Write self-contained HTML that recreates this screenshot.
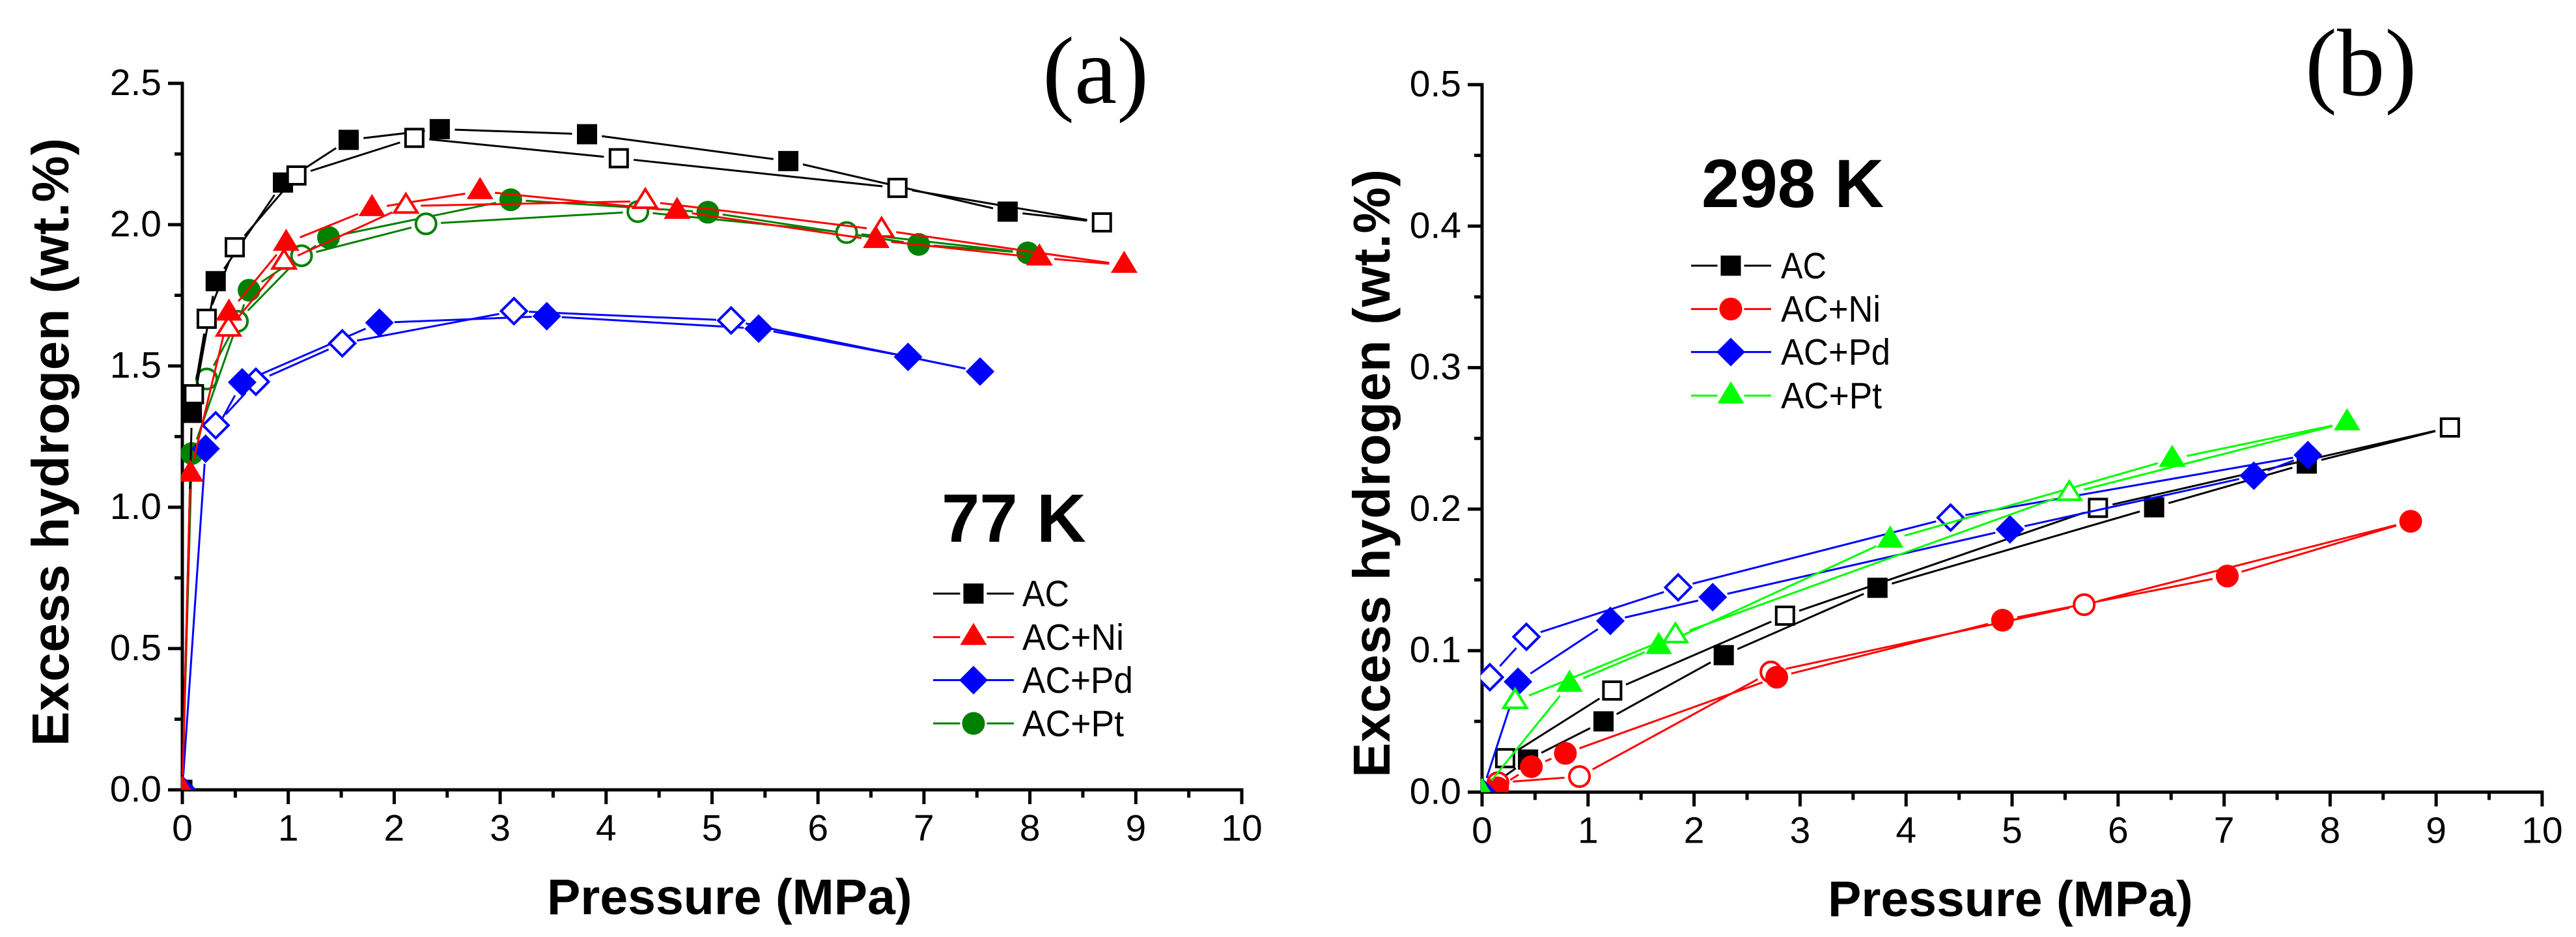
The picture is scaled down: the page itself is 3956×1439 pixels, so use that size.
<!DOCTYPE html>
<html lang="en">
<head>
<meta charset="utf-8">
<title>Excess hydrogen isotherms at 77 K and 298 K</title>
<style>
html,body{margin:0;padding:0;background:#fff;width:3956px;height:1439px;overflow:hidden}
svg{display:block}
text{font-family:"Liberation Sans",Arial,sans-serif;fill:#000}
.tick{font-size:57px}
.title{font-size:77px;font-weight:bold}
.ytitle{font-size:80px;font-weight:bold}
.temp{font-size:105px;font-weight:bold}
.panel{font-family:"Liberation Serif","Times New Roman",serif;font-size:147px}
.leg{font-size:57px}
</style>
</head>
<body>
<svg id="figure" xmlns="http://www.w3.org/2000/svg" width="3956" height="1439" viewBox="0 0 3956 1439">
  <rect width="3956" height="1439" fill="#fff"/>
  <defs>
    <clipPath id="clip-a"><rect x="278" y="100" width="1700" height="1113"/></clipPath>
    <clipPath id="clip-b"><rect x="2274" y="100" width="1700" height="1116.5"/></clipPath>
  </defs>

  <g id="panel-a">
    <g id="axes-a"></g>
    <g id="series-a" clip-path="url(#clip-a)"></g>
    <text class="panel" x="1601" y="158">(a)</text>
    <text class="temp" x="1446" y="832">77 K</text>
    <text class="title" x="840" y="1404">Pressure (MPa)</text>
    <text class="ytitle" transform="translate(105 1146) rotate(-90)" textLength="934" lengthAdjust="spacing">Excess hydrogen (wt.%)</text>
    <g id="legend-a"></g>
  </g>

  <g id="panel-b">
    <g id="axes-b"></g>
    <g id="series-b" clip-path="url(#clip-b)"></g>
    <text class="panel" x="3540" y="146">(b)</text>
    <text class="temp" x="2613" y="318">298 K</text>
    <text class="title" x="2807" y="1407">Pressure (MPa)</text>
    <text class="ytitle" transform="translate(2134 1194) rotate(-90)" textLength="934" lengthAdjust="spacing">Excess hydrogen (wt.%)</text>
    <g id="legend-b"></g>
  </g>
</svg>

<script>
// ---- Shared tick labels ----
const xTickLabels = ['0','1','2','3','4','5','6','7','8','9','10'];
const yTickLabelsA = ['0.0','0.5','1.0','1.5','2.0','2.5'];
const yTickLabelsB = ['0.0','0.1','0.2','0.3','0.4','0.5'];

// ---- Panel (a), 77 K: adsorption (filled) and desorption (open) ----
const acAdsP77 = [0, 0.09, 0.315, 0.95, 1.57, 2.43, 3.82, 5.72, 7.79];
const acAdsV77 = [0, 1.334, 1.80, 2.149, 2.30, 2.338, 2.32, 2.225, 2.046];
const acDesP77 = [8.68, 6.75, 4.12, 2.19, 1.077, 0.495, 0.23, 0.11];
const acDesV77 = [2.008, 2.13, 2.235, 2.307, 2.174, 1.92, 1.667, 1.40];

const niAdsP77 = [0, 0.075, 0.44, 0.98, 1.79, 2.81, 4.67, 6.55, 8.09, 8.89];
const niAdsV77 = [0, 1.118, 1.688, 1.935, 2.058, 2.118, 2.048, 1.945, 1.883, 1.857];
const niDesP77 = [6.60, 4.37, 2.11, 0.96, 0.436];
const niDesV77 = [1.981, 2.083, 2.066, 1.868, 1.631];

const pdAdsP77 = [0, 0.22, 0.565, 1.86, 3.44, 5.44, 6.85, 7.53];
const pdAdsV77 = [0, 1.207, 1.442, 1.653, 1.676, 1.632, 1.532, 1.48];
const pdDesP77 = [5.18, 3.13, 1.51, 0.694, 0.315];
const pdDesV77 = [1.661, 1.694, 1.58, 1.444, 1.29];

const ptAdsP77 = [0, 0.09, 0.63, 1.38, 3.10, 4.96, 6.95, 7.98];
const ptAdsV77 = [0, 1.19, 1.768, 1.955, 2.088, 2.044, 1.93, 1.90];
const ptDesP77 = [6.27, 4.30, 2.30, 1.125, 0.52, 0.23];
const ptDesV77 = [1.972, 2.046, 2.003, 1.89, 1.658, 1.454];

// ---- Panel (b), 298 K ----
const acAdsP298 = [0, 0.434, 1.146, 2.28, 3.73, 6.34, 7.78];
const acAdsV298 = [0, 0.023, 0.050, 0.0968, 0.1444, 0.2013, 0.2322];
const acDesP298 = [9.13, 5.81, 2.858, 1.228, 0.218];
const acDesV298 = [0.2577, 0.2009, 0.1247, 0.0718, 0.024];

const niAdsP298 = [0, 0.147, 0.465, 0.786, 2.78, 4.91, 7.03, 8.76];
const niAdsV298 = [0, 0.003, 0.018, 0.0274, 0.0812, 0.1215, 0.1527, 0.1914];
const niDesP298 = [5.68, 2.725, 0.919, 0.15];
const niDesV298 = [0.1325, 0.0849, 0.011, 0.0067];

const pdAdsP298 = [0, 0.339, 1.21, 2.176, 4.98, 7.28, 7.79];
const pdAdsV298 = [0, 0.078, 0.121, 0.1378, 0.1857, 0.2236, 0.2382];
const pdDesP298 = [4.42, 1.85, 0.418, 0.074];
const pdDesV298 = [0.194, 0.1447, 0.1098, 0.0812];

const ptAdsP298 = [0, 0.825, 1.667, 3.85, 6.51, 8.16];
const ptAdsV298 = [0, 0.0764, 0.1031, 0.1783, 0.2354, 0.2612];
const ptDesP298 = [5.54, 1.824, 0.312];
const ptDesV298 = [0.2112, 0.1107, 0.0642];

// ---- Helpers ----
const NS = 'http://www.w3.org/2000/svg';
function el(parent, tag, attrs, text) {
  const e = document.createElementNS(NS, tag);
  for (const k in attrs) e.setAttribute(k, attrs[k]);
  if (text !== undefined) e.textContent = text;
  parent.appendChild(e);
  return e;
}

const BLACK = '#000000', RED = '#ff0000', BLUE = '#0000ff', DARKGREEN = '#008000', LIME = '#00ff00';
const GAP = 23;

function markerShape(parent, shape, cx, cy, color, filled) {
  const fill = filled ? color : '#ffffff';
  const sw = filled ? 0 : 4;
  const inset = filled ? 0 : 2;
  const base = {fill: fill, stroke: filled ? 'none' : color, 'stroke-width': sw};
  if (shape === 'square') {
    const h = 15.5 - inset;
    return el(parent, 'rect', Object.assign({x: cx - h, y: cy - h, width: 2 * h, height: 2 * h}, base));
  }
  if (shape === 'circle') {
    return el(parent, 'circle', Object.assign({cx: cx, cy: cy, r: 17.5 - inset}, base));
  }
  if (shape === 'diamond') {
    const d = 22 - inset * 1.2;
    return el(parent, 'polygon', Object.assign({points: [cx, cy - d, cx + d, cy, cx, cy + d, cx - d, cy].join(' ')}, base));
  }
  const hw = 20.5 - inset * 1.4;
  const top = cy - 22 + inset * 1.8;
  const bot = cy + 12 - inset;
  return el(parent, 'polygon', Object.assign({points: [cx, top, cx + hw, bot, cx - hw, bot].join(' ')}, base));
}

function drawAxes(group, ax, yTicks, prefix) {
  const xAxis = el(group, 'line', {x1: ax.x0 - 2.5, x2: ax.x0 + 10 * ax.sx + 2.5, y1: ax.y0, y2: ax.y0, stroke: '#000', 'stroke-width': 5});
  
  
  const yAxis = el(group, 'line', {x1: ax.x0, x2: ax.x0, y1: ax.yTop - 2.5, y2: ax.y0 + 2.5, stroke: '#000', 'stroke-width': 5});
  
  

  xTickLabels.forEach(function (lab, i) {
    const x = ax.x0 + i * ax.sx;
    const t = el(group, 'line', {x1: x, x2: x, y1: ax.y0, y2: ax.y0 + 22, stroke: '#000', 'stroke-width': 5});
    
    
    const l = el(group, 'text', {x: x, y: ax.y0 + 78, 'text-anchor': 'middle', class: 'tick'}, lab);
    
    
    if (i < xTickLabels.length - 1) {
      const mx = x + ax.sx / 2;
      const m = el(group, 'line', {x1: mx, x2: mx, y1: ax.y0, y2: ax.y0 + 12, stroke: '#000', 'stroke-width': 5});
      
      
    }
  });

  const step = (ax.y0 - ax.yTop) / (yTicks.length - 1);
  yTicks.forEach(function (lab, i) {
    const y = ax.y0 - i * step;
    const t = el(group, 'line', {x1: ax.x0 - 22, x2: ax.x0, y1: y, y2: y, stroke: '#000', 'stroke-width': 5});
    
    
    const l = el(group, 'text', {x: ax.x0 - 32, y: y + 18, 'text-anchor': 'end', class: 'tick'}, lab);
    
    
    if (i < yTicks.length - 1) {
      const my = y - step / 2;
      const m = el(group, 'line', {x1: ax.x0 - 12, x2: ax.x0, y1: my, y2: my, stroke: '#000', 'stroke-width': 5});
      
      
    }
  });
}

function drawSeries(group, ax, s) {
  const g = el(group, 'g', {});
  
  

  const ads = s.adsP.map(function (p, i) { return {x: ax.px(p), y: ax.py(s.adsV[i]), filled: true}; });
  const des = s.desP.map(function (p, i) { return {x: ax.px(p), y: ax.py(s.desV[i]), filled: false}; });
  const path = ads.concat(des);

  for (let i = 0; i < path.length - 1; i++) {
    const a = path[i], b = path[i + 1];
    const dx = b.x - a.x, dy = b.y - a.y, len = Math.hypot(dx, dy);
    if (len <= 2 * GAP) continue;
    const ux = dx / len, uy = dy / len;
    const seg = el(g, 'line', {
      x1: a.x + ux * GAP, y1: a.y + uy * GAP,
      x2: b.x - ux * GAP, y2: b.y - uy * GAP,
      stroke: s.color, 'stroke-width': 3
    });
    
    
  }

  const drawList = s.openOnTop ? ads.concat(des) : des.concat(ads);
  drawList.forEach(function (pt) {
    const m = markerShape(g, s.shape, pt.x, pt.y, s.color, pt.filled);
    
    
  });
}

function drawLegend(group, items, lg) {
  items.forEach(function (it, i) {
    const y = lg.rows[i];
    const row = el(group, 'g', {});
    
    
    const left = el(row, 'line', {x1: lg.x1, x2: lg.mx - 20.5, y1: y, y2: y, stroke: it.color, 'stroke-width': 3});
    
    
    const right = el(row, 'line', {x1: lg.mx + 20.5, x2: lg.x2, y1: y, y2: y, stroke: it.color, 'stroke-width': 3});
    
    
    const m = markerShape(row, it.shape, lg.mx, y, it.color, true);
    
    
    const t = el(row, 'text', {
      x: lg.tx, y: y + 19.5, class: 'leg',
      textLength: it.width, lengthAdjust: 'spacingAndGlyphs'
    }, it.label);
    
    
  });
}

function makeAxis(x0, sx, y0, yTop, yMax) {
  const sy = (y0 - yTop) / yMax;
  return {
    x0: x0, sx: sx, y0: y0, yTop: yTop,
    px: function (p) { return x0 + p * sx; },
    py: function (v) { return y0 - v * sy; }
  };
}

// ---- Panel (a) ----
const axA = makeAxis(280, 162.7, 1213, 128, 2.5);
drawAxes(document.getElementById('axes-a'), axA, yTickLabelsA, 'panel-a');
const seriesGroupA = document.getElementById('series-a');
drawSeries(seriesGroupA, axA, {name: 'ac-plus-pt-77k', color: DARKGREEN, shape: 'circle', adsP: ptAdsP77, adsV: ptAdsV77, desP: ptDesP77, desV: ptDesV77});
drawSeries(seriesGroupA, axA, {name: 'ac-77k', color: BLACK, shape: 'square', adsP: acAdsP77, adsV: acAdsV77, desP: acDesP77, desV: acDesV77, openOnTop: true});
drawSeries(seriesGroupA, axA, {name: 'ac-plus-pd-77k', color: BLUE, shape: 'diamond', adsP: pdAdsP77, adsV: pdAdsV77, desP: pdDesP77, desV: pdDesV77});
drawSeries(seriesGroupA, axA, {name: 'ac-plus-ni-77k', color: RED, shape: 'triangle', adsP: niAdsP77, adsV: niAdsV77, desP: niDesP77, desV: niDesV77});

drawLegend(document.getElementById('legend-a'), [
  {key: 'ac', label: 'AC', color: BLACK, shape: 'square', width: 72},
  {key: 'ac-ni', label: 'AC+Ni', color: RED, shape: 'triangle', width: 156},
  {key: 'ac-pd', label: 'AC+Pd', color: BLUE, shape: 'diamond', width: 170},
  {key: 'ac-pt', label: 'AC+Pt', color: DARKGREEN, shape: 'circle', width: 156}
], {x1: 1433, x2: 1557, mx: 1495, tx: 1570, rows: [911.6, 978.5, 1044.5, 1111]});

// ---- Panel (b) ----
const axB = makeAxis(2276, 162.8, 1216.5, 130, 0.5);
drawAxes(document.getElementById('axes-b'), axB, yTickLabelsB, 'panel-b');
const seriesGroupB = document.getElementById('series-b');
drawSeries(seriesGroupB, axB, {name: 'ac-298k', color: BLACK, shape: 'square', adsP: acAdsP298, adsV: acAdsV298, desP: acDesP298, desV: acDesV298, openOnTop: true});
drawSeries(seriesGroupB, axB, {name: 'ac-plus-ni-298k', color: RED, shape: 'circle', adsP: niAdsP298, adsV: niAdsV298, desP: niDesP298, desV: niDesV298});
drawSeries(seriesGroupB, axB, {name: 'ac-plus-pd-298k', color: BLUE, shape: 'diamond', adsP: pdAdsP298, adsV: pdAdsV298, desP: pdDesP298, desV: pdDesV298});
drawSeries(seriesGroupB, axB, {name: 'ac-plus-pt-298k', color: LIME, shape: 'triangle', adsP: ptAdsP298, adsV: ptAdsV298, desP: ptDesP298, desV: ptDesV298});

drawLegend(document.getElementById('legend-b'), [
  {key: 'ac', label: 'AC', color: BLACK, shape: 'square', width: 70},
  {key: 'ac-ni', label: 'AC+Ni', color: RED, shape: 'circle', width: 153},
  {key: 'ac-pd', label: 'AC+Pd', color: BLUE, shape: 'diamond', width: 168},
  {key: 'ac-pt', label: 'AC+Pt', color: LIME, shape: 'triangle', width: 155}
], {x1: 2597, x2: 2720, mx: 2658, tx: 2735, rows: [408, 474.6, 540.6, 607.6]});
</script>
</body>
</html>
